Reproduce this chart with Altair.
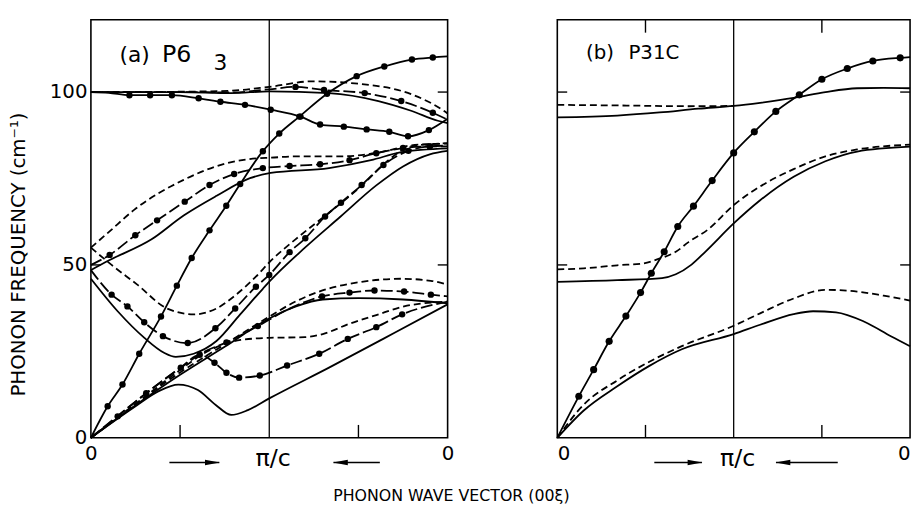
import altair as alt
import pandas as pd

# ---------------- data ----------------
# x in units of the wave-vector path: 0 -> pi/c (1) -> 0 (2); y in cm^-1

# ----- panel (a) P6_3 -----
a_steep_x = [0, 0.094, 0.177, 0.271, 0.393, 0.482, 0.565, 0.665, 0.759, 0.837, 0.964, 1.056, 1.169, 1.324, 1.49, 1.645, 1.80, 1.917, 2.0]
a_steep_y = [0, 9.1, 15.4, 24.3, 35.1, 44.0, 52.0, 60.0, 67.1, 73.4, 82.9, 88.0, 92.9, 99.5, 104.6, 107.4, 109.4, 110.0, 110.3]

a_desc_x = [0, 0.1, 0.216, 0.332, 0.454, 0.604, 0.726, 0.864, 1.008, 1.175, 1.285, 1.418, 1.546, 1.673, 1.778, 1.895, 2.0]
a_desc_y = [100, 99.8, 99.1, 99.1, 99.1, 98.2, 97.2, 96.3, 94.9, 92.9, 90.6, 90.0, 89.2, 88.5, 87.2, 89.0, 92.3]

a_up_solid_x = [0, 0.5, 0.787, 1.0, 1.335, 1.612, 1.795, 1.945, 2.0]
a_up_solid_y = [100, 100, 99.7, 100.2, 99.7, 97.4, 94.6, 91.7, 91.0]
a_up_dash_x = [0, 0.5, 0.787, 1.0, 1.24, 1.518, 1.795, 1.978, 2.0]
a_up_dash_y = [100, 100.1, 100.4, 101.5, 103.1, 102.3, 99.4, 94.6, 93.8]
a_up_ldash_x = [0, 0.5, 0.787, 1.0, 1.147, 1.307, 1.535, 1.74, 1.917, 2.0]
a_up_ldash_y = [100, 100, 99.9, 100.8, 101.5, 100.6, 99.7, 97.4, 94.0, 92.0]
a_up_ldash_dots_x = [1.147, 1.307, 1.535, 1.74, 1.917]
a_up_ldash_dots_y = [101.5, 100.6, 99.7, 97.4, 94.0]

a_mid_dash_x = [0, 0.1, 0.244, 0.52, 0.76, 0.947, 1.0, 1.15, 1.4, 1.55, 1.668, 1.795, 2.0]
a_mid_dash_y = [55, 59.5, 66, 74.6, 79.4, 80.9, 81.0, 81.4, 81.4, 82.0, 83.1, 84.6, 85.1]
a_mid_ldash_x = [0, 0.105, 0.249, 0.371, 0.526, 0.665, 0.803, 0.964, 1.114, 1.285, 1.45, 1.6, 1.75, 1.9, 2.0]
a_mid_ldash_y = [50, 52.9, 58.6, 62.9, 68.3, 73.1, 76.3, 78.0, 78.6, 79.1, 80.3, 82.3, 83.8, 84.3, 84.3]
a_mid_solid_x = [0, 0.105, 0.34, 0.52, 0.705, 0.892, 1.008, 1.335, 1.57, 1.74, 2.0]
a_mid_solid_y = [48.5, 51.4, 57.4, 64.3, 70.0, 75.1, 76.6, 78.0, 80.3, 82.6, 83.7]

a_low_dash_x = [0, 0.116, 0.26, 0.427, 0.576, 0.704, 0.814, 0.925, 1.003, 1.147, 1.335, 1.518, 1.668, 1.795, 2.0]
a_low_dash_y = [55, 50, 44.3, 37.4, 35.7, 37.4, 41.4, 46.6, 50.9, 57.4, 65.1, 72.9, 80.3, 84.3, 85.2]
a_low_ldash_x = [0, 0.116, 0.205, 0.299, 0.404, 0.543, 0.698, 0.809, 0.925, 1.0, 1.114, 1.202, 1.313, 1.402, 1.518, 1.64, 1.78, 1.9, 2.0]
a_low_ldash_y = [48.5, 41.4, 38.0, 33.4, 29.4, 27.4, 31.7, 37.4, 43.7, 47.1, 53.7, 57.7, 64.0, 68.0, 73.1, 78.9, 83.0, 84.3, 84.5]
a_low_solid_x = [0, 0.15, 0.3, 0.41, 0.476, 0.576, 0.704, 0.837, 0.964, 1.003, 1.2, 1.4, 1.6, 1.75, 1.9, 2.0]
a_low_solid_y = [46, 36.6, 28.9, 24.6, 23.4, 24.3, 28.0, 35.7, 43.1, 45.3, 55.0, 64.0, 73.0, 78.5, 82.0, 83.0]

a_ac1_solid_x = [0, 0.244, 0.38, 0.49, 0.6, 0.7, 0.787, 0.88, 1.0, 1.335, 1.7, 2.0]
a_ac1_solid_y = [0, 8.9, 13.5, 15.4, 13.8, 9.5, 6.6, 8.0, 11.4, 20.3, 30.3, 38.6]
a_ac2_solid_x = [0, 0.25, 0.5, 0.75, 1.0, 1.15, 1.3, 1.5, 1.75, 2.0]
a_ac2_solid_y = [0, 9.4, 18.2, 26.3, 34.5, 38.0, 40.0, 40.4, 40.0, 38.9]
a_ac2_dash_x = [0, 0.25, 0.5, 0.75, 0.964, 1.147, 1.28, 1.518, 1.74, 1.906, 2.0]
a_ac2_dash_y = [0, 9.7, 18.9, 27.0, 33.9, 39.4, 42.3, 45.1, 46.0, 45.4, 44.3]
a_ac1_dash_x = [0, 0.25, 0.5, 0.63, 0.76, 0.84, 1.0, 1.2, 1.3, 1.45, 1.6, 1.756, 2.0]
a_ac1_dash_y = [0, 9.8, 19.6, 24.3, 27.3, 28.3, 28.9, 29.1, 30.0, 33.0, 35.5, 38.0, 39.4]
a_ac1_ldash_x = [0, 0.15, 0.31, 0.504, 0.61, 0.693, 0.76, 0.831, 0.947, 1.1, 1.28, 1.44, 1.6, 1.745, 2.0]
a_ac1_ldash_y = [0, 6.2, 12.9, 20.3, 24.0, 21.7, 18.8, 17.4, 18.0, 20.9, 24.3, 28.6, 32.0, 35.7, 39.4]
a_ac2_ldash_x = [0, 0.504, 0.632, 0.76, 0.936, 1.1, 1.296, 1.45, 1.59, 1.756, 1.906, 2.0]
a_ac2_ldash_y = [0, 20.3, 24.8, 27.6, 32.3, 37.0, 40.9, 42.0, 42.6, 42.3, 41.4, 40.9]
a_ac2_ldash_dots_x = [0.76, 0.936, 1.296, 1.45, 1.59, 1.756, 1.906]
a_ac2_ldash_dots_y = [27.6, 32.3, 40.9, 42.0, 42.6, 42.3, 41.4]

# ----- panel (b) P31C -----
b_steep_x = [0, 0.122, 0.206, 0.294, 0.389, 0.472, 0.533, 0.606, 0.683, 0.772, 0.878, 1.0, 1.117, 1.239, 1.372, 1.5, 1.644, 1.789, 1.944, 2.0]
b_steep_y = [0, 12.0, 19.7, 27.9, 35.2, 42.0, 47.6, 53.8, 61.1, 67.0, 74.4, 82.4, 88.5, 94.4, 99.2, 103.7, 106.8, 109.0, 109.9, 110.1]
b_up_solid_x = [0, 0.34, 0.58, 0.8, 1.0, 1.15, 1.34, 1.52, 1.7, 1.85, 2.0]
b_up_solid_y = [92.7, 93.2, 94.1, 95.2, 96.0, 96.9, 98.3, 100.0, 101.1, 101.2, 101.1]
b_up_dash_x = [0, 0.4, 0.744, 1.0]
b_up_dash_y = [96.3, 96.1, 95.9, 96.0]
b_mid_dash_x = [0, 0.15, 0.34, 0.483, 0.578, 0.672, 0.744, 0.856, 1.0, 1.15, 1.34, 1.52, 1.7, 2.0]
b_mid_dash_y = [48.7, 49.0, 49.9, 50.4, 51.8, 53.8, 56.6, 60.3, 67.3, 72.7, 77.7, 81.4, 83.4, 84.8]
b_mid_solid_x = [0, 0.34, 0.594, 0.672, 0.761, 0.839, 1.0, 1.15, 1.34, 1.52, 1.7, 2.0]
b_mid_solid_y = [45.1, 45.6, 46.2, 47.3, 50.1, 53.8, 62.0, 68.7, 75.5, 80.0, 82.8, 84.2]
b_low_dash_x = [0, 0.15, 0.34, 0.522, 0.706, 1.0, 1.15, 1.34, 1.52, 1.7, 1.85, 2.0]
b_low_dash_y = [0, 9.6, 16.6, 22.0, 26.5, 32.4, 36.0, 40.3, 42.8, 42.3, 41.1, 39.7]
b_low_solid_x = [0, 0.15, 0.34, 0.522, 0.706, 1.0, 1.15, 1.34, 1.45, 1.58, 1.744, 1.894, 2.0]
b_low_solid_y = [0, 7.9, 14.9, 20.8, 25.6, 30.0, 32.7, 35.8, 36.6, 36.3, 33.5, 29.3, 26.5]

# axis / annotation values
y_tick_values = [0, 50, 100]
inner_y_ticks = [50, 100]
inner_x_ticks = [0.5, 1.5]
a_arrow_right = [0.44, 0.72]   # tail, tip
a_arrow_left = [1.62, 1.36]
b_arrow_right = [0.55, 0.82]
b_arrow_left = [1.59, 1.24]
a_labels = ["(a)", "P6", "3"]
b_labels = ["(b)", "P31C"]
y_title = "PHONON FREQUENCY (cm⁻¹)"
x_title = "PHONON WAVE VECTOR (00ξ)"
pi_label = "π/c"

# ---------------- layout ----------------
H = 423
WA = 361
WB = 357
YMAX = 120.9
FONT = "DejaVu Sans"

curves_a = [
    ("steep", "solid", a_steep_x, a_steep_y),
    ("desc", "solid", a_desc_x, a_desc_y),
    ("up_s", "solid", a_up_solid_x, a_up_solid_y),
    ("up_d", "dash", a_up_dash_x, a_up_dash_y),
    ("up_l", "ldash", a_up_ldash_x, a_up_ldash_y),
    ("mid_d", "dash", a_mid_dash_x, a_mid_dash_y),
    ("mid_l", "ldash", a_mid_ldash_x, a_mid_ldash_y),
    ("mid_s", "solid", a_mid_solid_x, a_mid_solid_y),
    ("low_d", "dash", a_low_dash_x, a_low_dash_y),
    ("low_l", "ldash", a_low_ldash_x, a_low_ldash_y),
    ("low_s", "solid", a_low_solid_x, a_low_solid_y),
    ("ac1_s", "solid", a_ac1_solid_x, a_ac1_solid_y),
    ("ac2_s", "solid", a_ac2_solid_x, a_ac2_solid_y),
    ("ac2_d", "dash", a_ac2_dash_x, a_ac2_dash_y),
    ("ac1_d", "dash", a_ac1_dash_x, a_ac1_dash_y),
    ("ac1_l", "ldash", a_ac1_ldash_x, a_ac1_ldash_y),
    ("ac2_l", "ldash", a_ac2_ldash_x, a_ac2_ldash_y),
]
dots_a = [
    (a_steep_x[1:-1], a_steep_y[1:-1]),
    (a_desc_x[2:-1], a_desc_y[2:-1]),
    (a_up_ldash_dots_x, a_up_ldash_dots_y),
    (a_mid_ldash_x[1:-1], a_mid_ldash_y[1:-1]),
    (a_low_ldash_x[1:-1], a_low_ldash_y[1:-1]),
    (a_ac1_ldash_x[1:-1], a_ac1_ldash_y[1:-1]),
    (a_ac2_ldash_dots_x, a_ac2_ldash_dots_y),
]
curves_b = [
    ("steep", "solid", b_steep_x, b_steep_y),
    ("up_s", "solid", b_up_solid_x, b_up_solid_y),
    ("up_d", "dash", b_up_dash_x, b_up_dash_y),
    ("mid_d", "dash", b_mid_dash_x, b_mid_dash_y),
    ("mid_s", "solid", b_mid_solid_x, b_mid_solid_y),
    ("low_d", "dash", b_low_dash_x, b_low_dash_y),
    ("low_s", "solid", b_low_solid_x, b_low_solid_y),
]
dots_b = [(b_steep_x[1:-1], b_steep_y[1:-1])]


def lines_df(curves):
    rows = []
    for name, style, xs, ys in curves:
        for i, (x, y) in enumerate(zip(xs, ys)):
            rows.append({"curve": name, "style": style, "x": x, "y": y, "i": i})
    return pd.DataFrame(rows)


def dots_df(dots):
    rows = []
    for xs, ys in dots:
        for x, y in zip(xs, ys):
            rows.append({"x": x, "y": y})
    return pd.DataFrame(rows)


xscale = alt.Scale(domain=[0, 2], nice=False, zero=False)
yscale = alt.Scale(domain=[0, YMAX], nice=False, zero=False)


def panel(curves, dots, width, yaxis, xaxis, labels, label_pos, arrows, top_ticks, dot_size):
    X = lambda f: alt.X(f"{f}:Q", scale=xscale, axis=xaxis)
    Y = lambda f: alt.Y(f"{f}:Q", scale=yscale, axis=yaxis)
    df = lines_df(curves)
    layers = []
    for style, dash in [("solid", None), ("dash", [7, 4]), ("ldash", [12, 4])]:
        sub = df[df["style"] == style]
        kw = dict(color="black", strokeWidth=1.8, interpolate="monotone")
        if dash:
            kw["strokeDash"] = dash
        layers.append(
            alt.Chart(sub).mark_line(**kw).encode(
                x=X("x"), y=Y("y"), detail="curve:N", order="i:Q"
            )
        )
    layers.append(
        alt.Chart(dots_df(dots)).mark_circle(color="black", size=dot_size, opacity=1).encode(
            x=X("x"), y=Y("y")
        )
    )
    # vertical line at pi/c
    layers.append(
        alt.Chart(pd.DataFrame({"x": [1]})).mark_rule(color="black", strokeWidth=1.3).encode(x=X("x"))
    )
    # inward ticks
    ty = pd.DataFrame({"y": inner_y_ticks})
    layers.append(alt.Chart(ty).mark_rule(color="black", strokeWidth=1.4).encode(
        y=Y("y"), x=alt.value(0), x2=alt.value(10)))
    layers.append(alt.Chart(ty).mark_rule(color="black", strokeWidth=1.4).encode(
        y=Y("y"), x=alt.value(width - 10), x2=alt.value(width)))
    tx = pd.DataFrame({"x": inner_x_ticks})
    layers.append(alt.Chart(tx).mark_rule(color="black", strokeWidth=1.4).encode(
        x=X("x"), y=alt.value(H), y2=alt.value(H - 13)))
    if top_ticks:
        layers.append(alt.Chart(tx).mark_rule(color="black", strokeWidth=1.4).encode(
            x=X("x"), y=alt.value(0), y2=alt.value(13)))
    # pi/c label
    layers.append(
        alt.Chart(pd.DataFrame({"x": [1], "t": [pi_label]})).mark_text(
            fontSize=24, font=FONT, baseline="middle", dx=4, color="black"
        ).encode(x=X("x"), y=alt.value(H + 22), text="t:N")
    )
    # arrows
    ar = pd.DataFrame({"x0": [arrows[0][0], arrows[1][0]], "x1": [arrows[0][1], arrows[1][1]]})
    layers.append(alt.Chart(ar).mark_rule(color="black", strokeWidth=1.6).encode(
        x=X("x0"), x2="x1:Q", y=alt.value(H + 25)))
    right_head = "M-1,-0.38L1,0L-1,0.38Z"
    left_head = "M1,-0.38L-1,0L1,0.38Z"
    layers.append(alt.Chart(pd.DataFrame({"x": [arrows[0][1]]})).mark_point(
        shape=right_head, filled=True, size=225, color="black", opacity=1, xOffset=-7, strokeWidth=0
    ).encode(x=X("x"), y=alt.value(H + 25)))
    layers.append(alt.Chart(pd.DataFrame({"x": [arrows[1][1]]})).mark_point(
        shape=left_head, filled=True, size=225, color="black", opacity=1, xOffset=7, strokeWidth=0
    ).encode(x=X("x"), y=alt.value(H + 25)))
    # panel labels
    one = pd.DataFrame({"a": [0]})
    for txt, (px, py, fs) in zip(labels, label_pos):
        layers.append(alt.Chart(one).mark_text(
            text=txt, fontSize=fs, font=FONT, align="left", baseline="alphabetic", color="black"
        ).encode(x=alt.value(px), y=alt.value(py)))
    return alt.layer(*layers).properties(width=width, height=H)


yaxis_a = alt.Axis(
    values=y_tick_values, ticks=False, domain=False, grid=False,
    labelFontSize=20, labelFont=FONT, labelColor="black", labelPadding=4,
    title=y_title, titleFont=FONT, titleFontSize=20, titleFontWeight="normal",
    titleColor="black", titleAngle=270, titleX=-73, titleY=237,
    titleBaseline="middle", titleAlign="center",
)
xaxis_a = alt.Axis(
    values=[0, 2], labelExpr="'0'", ticks=False, domain=False, grid=False,
    labelFontSize=20, labelFont=FONT, labelColor="black", labelPadding=6,
    labelFlush=False, labelOverlap=False, title=None,
)
xaxis_b = alt.Axis(
    values=[0, 2], labelExpr="'0'", ticks=False, domain=False, grid=False,
    labelFontSize=20, labelFont=FONT, labelColor="black", labelPadding=6,
    labelFlush=True, labelOverlap=False, title=None,
)

left = panel(curves_a, dots_a, WA, yaxis_a, xaxis_a, a_labels,
             [(29, 43, 22), (72, 43, 24), (124, 51, 22)],
             [a_arrow_right, a_arrow_left], False, 42)
right = panel(curves_b, dots_b, WB, None, xaxis_b, b_labels,
              [(29, 40, 20), (72, 40, 20)],
              [b_arrow_right, b_arrow_left], True, 52)

chart = alt.hconcat(left, right, spacing=98).properties(
    padding={"left": 8, "top": 15, "right": 0, "bottom": 0},
    title=alt.TitleParams(
        x_title, orient="bottom", anchor="middle", fontSize=16, font=FONT,
        fontWeight="normal", color="black", offset=16, dx=-10,
    ),
).configure_view(stroke="black", strokeWidth=1.6)

chart.save("out.html", embed_options={"renderer": "svg", "actions": False})
